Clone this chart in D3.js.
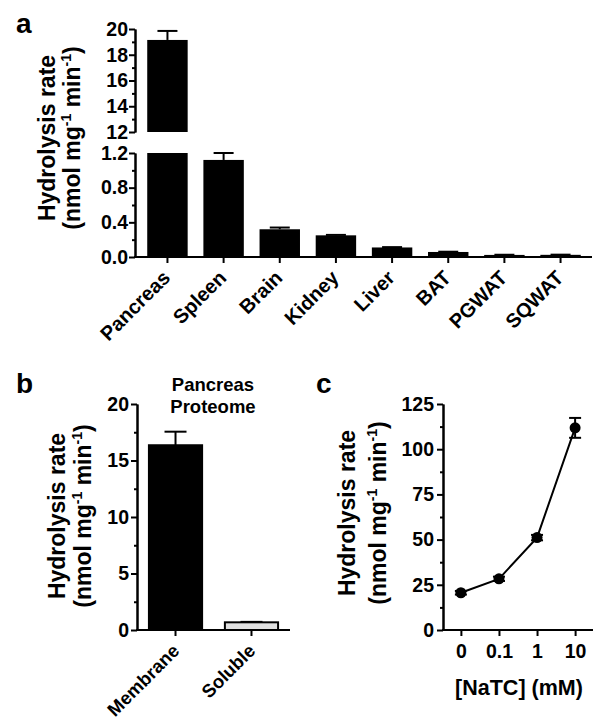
<!DOCTYPE html>
<html><head><meta charset="utf-8">
<script src="https://cdn.jsdelivr.net/npm/d3@7"></script>
<style>
body{margin:0;background:#fff}
svg text{font-family:"Liberation Sans",Arial,Helvetica,sans-serif;font-weight:bold;fill:#000}
</style>
</head><body><svg id="c" width="604" height="725"></svg>
<script>
// ---- data ----
const tissues = ["Pancreas","Spleen","Brain","Kidney","Liver","BAT","PGWAT","SQWAT"];
const tissueRate = [19.15,1.12,0.32,0.25,0.11,0.058,0.024,0.025];
const tissueErr  = [0.7,0.08,0.02,0.005,0.004,0.003,0.002,0.002];
const topTicks = [12,14,16,18,20];
const topMinor = [13,15,17,19];
const bottomTicks = [0.0,0.4,0.8,1.2];
const bottomMinor = [0.2,0.6,1.0];

const fractions = ["Membrane","Soluble"];
const fractionRate = [16.35,0.68];
const fractionErr  = [1.2,0.04];
const fractionFill = ["#000","#e0e0e0"];
const fractionTicks = [0,5,10,15,20];
const fractionMinor = [2.5,7.5,12.5,17.5];

const natc = ["0","0.1","1","10"];
const natcRate = [20.6,28.3,51.1,111.8];
const natcErr  = [1.0,1.2,1.5,5.5];
const natcTicks = [0,25,50,75,100,125];
const natcMinor = [12.5,37.5,62.5,87.5,112.5];

const svg = d3.select("#c");
const TICK_FS = 19.5, CAT_FS = 20, CAT_FS_B = 18.5, TITLE_FS = 23;

function styleAxis(g){
  g.selectAll("path,line").attr("stroke","#000").attr("stroke-width",2);
  g.selectAll("text").attr("font-size",TICK_FS).attr("fill","#000");
}
function yAxis(x, scale, major, minor, fmt, pad){
  const g1 = svg.append("g").attr("transform",`translate(${x},0)`)
    .call(d3.axisLeft(scale).tickValues(minor).tickSize(3).tickFormat("").tickSizeOuter(0));
  styleAxis(g1);
  const g2 = svg.append("g").attr("transform",`translate(${x},0)`)
    .call(d3.axisLeft(scale).tickValues(major).tickSize(6).tickPadding(pad).tickFormat(fmt).tickSizeOuter(0));
  styleAxis(g2);
}
function yTitle(x1, x2, cy){
  svg.append("text").attr("transform",`translate(${x1},${cy}) rotate(-90)`)
    .attr("text-anchor","middle").attr("font-size",TITLE_FS).text("Hydrolysis rate");
  const t = svg.append("text").attr("transform",`translate(${x2},${cy}) rotate(-90)`)
    .attr("text-anchor","middle").attr("font-size",TITLE_FS);
  t.append("tspan").text("(nmol mg");
  t.append("tspan").attr("font-size",14).attr("dy",-9).text("-1");
  t.append("tspan").attr("dy",9).text(" min");
  t.append("tspan").attr("font-size",14).attr("dy",-9).text("-1");
  t.append("tspan").attr("dy",9).text(")");
}
function label(txt,x,y,fs){ svg.append("text").attr("x",x).attr("y",y).attr("font-size",fs).text(txt); }
function vline(x,y1,y2){ svg.append("line").attr("x1",x).attr("x2",x).attr("y1",y1).attr("y2",y2).attr("stroke","#000").attr("stroke-width",2); }
function hline(x1,x2,y){ svg.append("line").attr("x1",x1).attr("x2",x2).attr("y1",y).attr("y2",y).attr("stroke","#000").attr("stroke-width",2); }

// ================= Panel a =================
label("a",16,33,28);
const xa = d3.scaleBand().domain(tissues).range([136,592]).paddingInner(0.28).paddingOuter(0.2);
const yTop = d3.scaleLinear().domain([12,20]).range([132,29]);
const yBot = d3.scaleLinear().domain([0,1.2]).range([257,153]);

tissues.forEach((t,i)=>{
  const v = tissueRate[i], e = tissueErr[i];
  const x0 = xa(t), w = xa.bandwidth(), cx = x0 + w/2;
  if (v > 1.2){
    vline(cx, yTop(v), yTop(v+e)); hline(cx-10, cx+10, yTop(v+e));
    svg.append("rect").attr("x",x0).attr("width",w).attr("y",yTop(v)).attr("height",yTop(12)-yTop(v)).attr("fill","#000");
    svg.append("rect").attr("x",x0).attr("width",w).attr("y",yBot(1.2)).attr("height",yBot(0)-yBot(1.2)).attr("fill","#000");
  } else {
    vline(cx, yBot(v), yBot(v+e)); hline(cx-10, cx+10, yBot(v+e));
    svg.append("rect").attr("x",x0).attr("width",w).attr("y",yBot(v)).attr("height",yBot(0)-yBot(v)).attr("fill","#000");
  }
});
yAxis(135, yTop, topTicks, topMinor, d3.format("d"), 1);
yAxis(135, yBot, bottomTicks, bottomMinor, d3.format(".1f"), 1);
const gxa = svg.append("g").attr("transform",`translate(0,${yBot(0)})`)
  .call(d3.axisBottom(xa).tickSize(6).tickSizeOuter(0).tickFormat(""));
styleAxis(gxa);
gxa.select(".domain").attr("d",`M134,0H592`);
tissues.forEach(t=>{
  const cx = xa(t)+xa.bandwidth()/2;
  svg.append("text").attr("transform",`translate(${cx+4},${yBot(0)+22}) rotate(-45)`)
    .attr("text-anchor","end").attr("font-size",CAT_FS).text(t);
});
yTitle(55,80,138);

// ================= Panel b =================
label("b",16,393,28);
const xb = d3.scaleBand().domain(fractions).range([137,290]).paddingInner(0.30).paddingOuter(0.157);
const yb = d3.scaleLinear().domain([0,20]).range([630,404]);
fractions.forEach((f,i)=>{
  const x0 = xb(f), w = xb.bandwidth(), cx = x0+w/2, v = fractionRate[i], e = fractionErr[i];
  vline(cx, yb(v), yb(v+e)); hline(cx-11, cx+11, yb(v+e));
  svg.append("rect").attr("x",x0).attr("width",w).attr("y",yb(v)).attr("height",yb(0)-yb(v))
    .attr("fill",fractionFill[i]).attr("stroke","#000").attr("stroke-width",2);
});
yAxis(137, yb, fractionTicks, fractionMinor, d3.format("d"), 2);
const gxb = svg.append("g").attr("transform",`translate(0,${yb(0)})`)
  .call(d3.axisBottom(xb).tickSize(6).tickSizeOuter(0).tickFormat(""));
styleAxis(gxb);
gxb.select(".domain").attr("d",`M136,0H290`);
fractions.forEach(f=>{
  const cx = xb(f)+xb.bandwidth()/2;
  svg.append("text").attr("transform",`translate(${cx+5},${yb(0)+22}) rotate(-45)`)
    .attr("text-anchor","end").attr("font-size",CAT_FS_B).text(f);
});
svg.append("text").attr("x",213).attr("y",391).attr("text-anchor","middle").attr("font-size",18.5).text("Pancreas");
svg.append("text").attr("x",213).attr("y",413).attr("text-anchor","middle").attr("font-size",18.5).text("Proteome");
yTitle(65,91,516);

// ================= Panel c =================
label("c",316,393,28);
const xc = d3.scalePoint().domain(natc).range([443,593]).padding(0.47);
const yc = d3.scaleLinear().domain([0,125]).range([630,404]);
yAxis(443, yc, natcTicks, natcMinor, d3.format("d"), 3);
const gxc = svg.append("g").attr("transform",`translate(0,${yc(0)})`)
  .call(d3.axisBottom(xc).tickSize(6).tickPadding(8).tickSizeOuter(0));
styleAxis(gxc);
gxc.select(".domain").attr("d",`M442,0H593`);
const pts = natc.map((n,i)=>({x:xc(n), y:yc(natcRate[i]), lo:yc(natcRate[i]-natcErr[i]), hi:yc(natcRate[i]+natcErr[i])}));
svg.append("path").datum(pts).attr("fill","none").attr("stroke","#000").attr("stroke-width",2)
  .attr("d",d3.line().x(d=>d.x).y(d=>d.y));
pts.forEach(p=>{
  vline(p.x, p.lo, p.hi);
  hline(p.x-6, p.x+6, p.lo); hline(p.x-6, p.x+6, p.hi);
  svg.append("circle").attr("cx",p.x).attr("cy",p.y).attr("r",5.5).attr("fill","#000");
});
svg.append("text").attr("x",519).attr("y",695).attr("text-anchor","middle").attr("font-size",21.5).text("[NaTC] (mM)");
yTitle(355,386,513);
</script>
</body></html>
